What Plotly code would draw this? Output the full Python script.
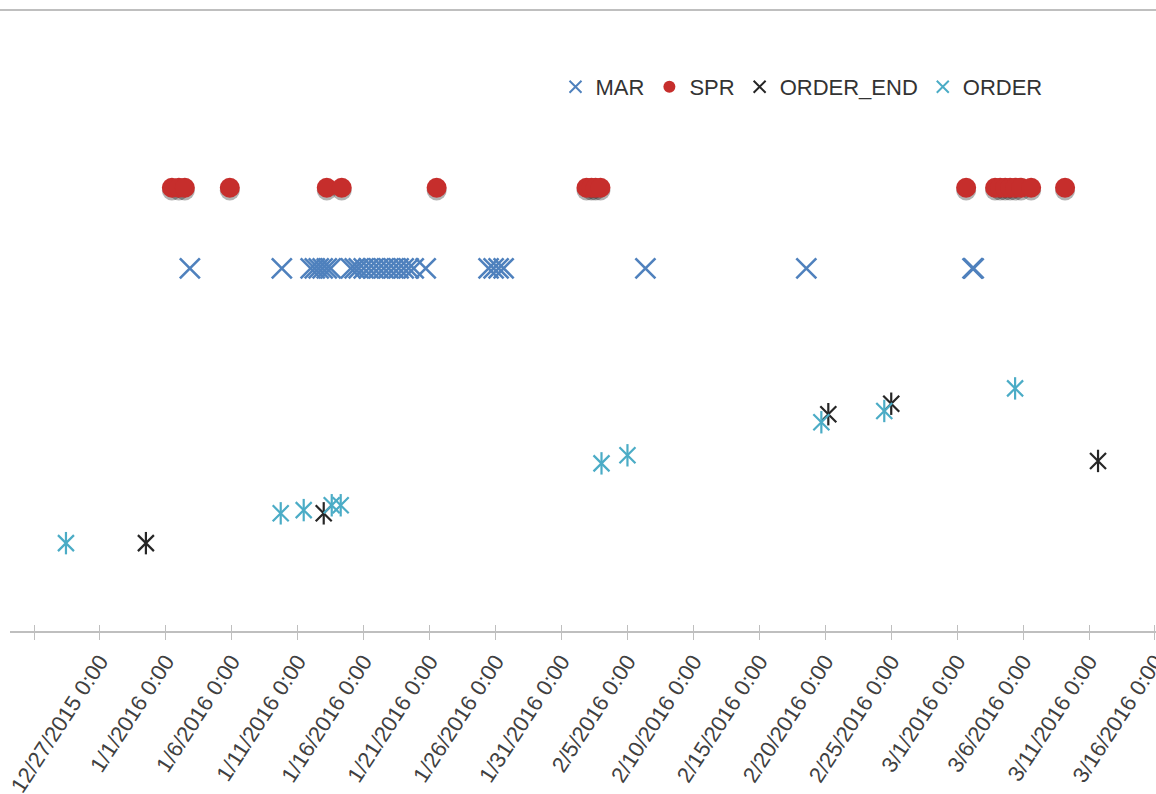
import plotly.graph_objects as go

# ---------------- data ----------------
mar_dates = [
    "2016-01-02 19:40", "2016-01-09 19:00",
    "2016-01-11 23:30", "2016-01-12 07:00", "2016-01-12 14:10", "2016-01-12 21:20",
    "2016-01-13 04:50", "2016-01-13 12:00",
    "2016-01-15 00:30", "2016-01-15 07:40", "2016-01-15 15:00",
    "2016-01-16 00:00", "2016-01-16 09:10", "2016-01-16 18:15", "2016-01-17 03:20",
    "2016-01-17 12:30", "2016-01-17 21:20", "2016-01-18 06:30", "2016-01-18 15:35",
    "2016-01-19 00:45", "2016-01-19 09:50", "2016-01-19 19:00",
    "2016-01-20 16:50",
    "2016-01-25 11:15", "2016-01-25 20:25", "2016-01-26 05:30", "2016-01-26 14:40",
    "2016-02-06 08:40", "2016-02-18 13:30", "2016-03-02 04:00", "2016-03-02 06:00",
]
mar_values = [4.5] * len(mar_dates)

spr_dates = [
    "2016-01-01 10:55", "2016-01-01 23:40", "2016-01-02 10:30", "2016-01-05 20:20",
    "2016-01-13 04:45", "2016-01-14 08:00", "2016-01-21 12:45",
    "2016-02-01 21:25", "2016-02-02 06:30", "2016-02-02 13:55", "2016-02-02 22:50",
    "2016-03-01 16:20", "2016-03-03 21:00", "2016-03-04 06:15", "2016-03-04 15:20",
    "2016-03-05 00:25", "2016-03-05 09:25", "2016-03-05 20:25", "2016-03-06 14:35",
    "2016-03-09 04:20",
]
spr_values = [5.5] * len(spr_dates)

order_end_dates = ["2015-12-30 11:40", "2016-01-12 23:15", "2016-02-20 05:30",
                   "2016-02-25 00:00", "2016-03-11 16:20"]
order_end_values = [1.09, 1.46, 2.69, 2.82, 2.11]

order_dates = ["2015-12-24 10:10", "2016-01-09 17:00", "2016-01-11 10:50",
               "2016-01-13 13:50", "2016-01-14 06:10", "2016-02-03 00:45",
               "2016-02-05 00:00", "2016-02-19 16:50", "2016-02-24 11:20",
               "2016-03-05 09:25"]
order_values = [1.09, 1.46, 1.50, 1.56, 1.56, 2.08, 2.18, 2.59, 2.73, 3.01]

tick_values = ["2015-12-22", "2015-12-27", "2016-01-01", "2016-01-06", "2016-01-11",
               "2016-01-16", "2016-01-21", "2016-01-26", "2016-01-31", "2016-02-05",
               "2016-02-10", "2016-02-15", "2016-02-20", "2016-02-25", "2016-03-01",
               "2016-03-06", "2016-03-11", "2016-03-16"]
tick_labels = ["", "12/27/2015 0:00", "1/1/2016 0:00", "1/6/2016 0:00", "1/11/2016 0:00",
               "1/16/2016 0:00", "1/21/2016 0:00", "1/26/2016 0:00", "1/31/2016 0:00",
               "2/5/2016 0:00", "2/10/2016 0:00", "2/15/2016 0:00", "2/20/2016 0:00",
               "2/25/2016 0:00", "3/1/2016 0:00", "3/6/2016 0:00", "3/11/2016 0:00",
               "3/16/2016 0:00"]

# ---------------- styles ----------------
MAR_COLOR = "#4F81BD"
SPR_COLOR = "#C62E2C"
END_COLOR = "#262626"
ORDER_COLOR = "#4BACC6"
TEXT_COLOR = "#404040"
FONT = "Liberation Sans, Arial, sans-serif"
shadow_shift = 0.035

fig = go.Figure()

fig.add_trace(go.Scatter(
    x=mar_dates, y=mar_values, mode="markers", name="MAR",
    marker=dict(symbol="x-thin-open", size=20, color=MAR_COLOR,
                line=dict(width=2.6, color=MAR_COLOR)),
))

fig.add_trace(go.Scatter(
    x=spr_dates, y=[v - shadow_shift for v in spr_values], mode="markers",
    showlegend=False, hoverinfo="skip",
    marker=dict(symbol="circle", size=20, color="rgba(0,0,0,0.3)", line=dict(width=0)),
))
fig.add_trace(go.Scatter(
    x=spr_dates, y=spr_values, mode="markers", name="SPR",
    marker=dict(symbol="circle", size=20, color=SPR_COLOR, line=dict(width=0)),
))

fig.add_trace(go.Scatter(
    x=order_end_dates, y=order_end_values, mode="markers", name="ORDER_END",
    legendgroup="end",
    marker=dict(symbol="x-thin-open", size=16, color=END_COLOR,
                line=dict(width=2.2, color=END_COLOR)),
))
fig.add_trace(go.Scatter(
    x=order_end_dates, y=order_end_values, mode="markers", showlegend=False,
    legendgroup="end", hoverinfo="skip",
    marker=dict(symbol="line-ns-open", size=16, color=END_COLOR,
                line=dict(width=2.2, color=END_COLOR)),
))

fig.add_trace(go.Scatter(
    x=order_dates, y=order_values, mode="markers", name="ORDER",
    legendgroup="order",
    marker=dict(symbol="x-thin-open", size=16, color=ORDER_COLOR,
                line=dict(width=2.2, color=ORDER_COLOR)),
))
fig.add_trace(go.Scatter(
    x=order_dates, y=order_values, mode="markers", showlegend=False,
    legendgroup="order", hoverinfo="skip",
    marker=dict(symbol="line-ns-open", size=16, color=ORDER_COLOR,
                line=dict(width=2.2, color=ORDER_COLOR)),
))

# dummy trace to carry the overlay axis (upper half of the crossing tick marks)
fig.add_trace(go.Scatter(x=[], y=[], xaxis="x2", yaxis="y", showlegend=False,
                         hoverinfo="skip"))

x_range = ["2015-12-20 04:20", "2016-03-16 01:50"]

fig.update_layout(
    width=1156, height=794,
    margin=dict(l=10, r=0, t=10, b=163, autoexpand=False),
    paper_bgcolor="white", plot_bgcolor="white",
    font=dict(family=FONT, size=22, color=TEXT_COLOR),
    showlegend=True,
    legend=dict(orientation="h", x=0.476, y=0.876, xanchor="left", yanchor="middle",
                font=dict(family=FONT, size=22, color="#333333"),
                bgcolor="rgba(0,0,0,0)", itemsizing="constant",
                tracegroupgap=0, itemwidth=30),
    xaxis=dict(
        type="date", range=x_range, tickmode="array",
        tickvals=tick_values, ticktext=tick_labels, tickangle=-57,
        ticklabeloverflow="allow", automargin=False,
        showgrid=False, zeroline=False,
        showline=True, linecolor="#BFBFBF", linewidth=1.5,
        ticks="outside", ticklen=7, tickwidth=1.3, tickcolor="#BFBFBF",
        tickfont=dict(family=FONT, size=22, color=TEXT_COLOR),
        fixedrange=True,
    ),
    xaxis2=dict(
        type="date", range=x_range, overlaying="x", side="bottom",
        tickmode="array", tickvals=tick_values, showticklabels=False,
        automargin=False,
        showgrid=False, zeroline=False, showline=False,
        ticks="inside", ticklen=6, tickwidth=1.3, tickcolor="#BFBFBF",
        fixedrange=True,
    ),
    yaxis=dict(range=[0, 7.705], visible=False, fixedrange=True, automargin=False),
    shapes=[dict(type="line", xref="paper", yref="paper", x0=-0.02, x1=1.02,
                 y0=1, y1=1, line=dict(color="#BFBFBF", width=2))],
)

fig.write_html(
    "out.html",
    config={"displayModeBar": False},
    post_script=(
        "document.documentElement.style.margin='0';"
        "document.body.style.margin='0';document.body.style.padding='0';"
        "document.body.style.overflow='hidden';"
        "document.documentElement.style.overflow='hidden';"
    ),
)
